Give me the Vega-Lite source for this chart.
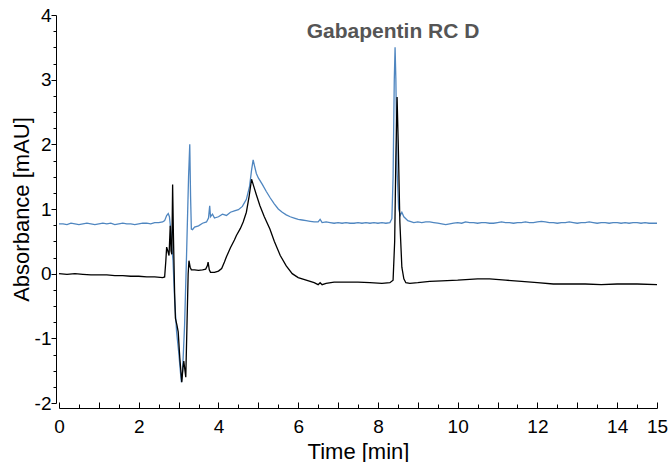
{
  "$schema": "https://vega.github.io/schema/vega-lite/v6.json",
  "width": 598,
  "height": 388,
  "autosize": "none",
  "padding": {"left": 59, "top": 15, "right": 15, "bottom": 59},
  "config": {
    "view": {"stroke": null},
    "font": "Liberation Sans",
    "axis": {"grid": false, "domainColor": "#000", "tickColor": "#000", "labelColor": "#000", "titleColor": "#000", "labelFont": "Liberation Sans", "titleFont": "Liberation Sans", "labelFontSize": 19, "titleFontSize": 22, "titleFontWeight": "normal", "domainWidth": 1, "tickWidth": 1}
  },
  "datasets": {
    "traces": [
      {"t": 0.0, "v": 0.77, "s": "blue"}, {"t": 0.1, "v": 0.77, "s": "blue"}, {"t": 0.2, "v": 0.76, "s": "blue"}, {"t": 0.3, "v": 0.78, "s": "blue"}, {"t": 0.4, "v": 0.77, "s": "blue"}, {"t": 0.5, "v": 0.76, "s": "blue"}, {"t": 0.6, "v": 0.77, "s": "blue"}, {"t": 0.7, "v": 0.78, "s": "blue"}, {"t": 0.8, "v": 0.77, "s": "blue"}, {"t": 0.9, "v": 0.76, "s": "blue"}, {"t": 1.0, "v": 0.77, "s": "blue"}, {"t": 1.1, "v": 0.78, "s": "blue"}, {"t": 1.2, "v": 0.77, "s": "blue"}, {"t": 1.3, "v": 0.78, "s": "blue"}, {"t": 1.4, "v": 0.76, "s": "blue"}, {"t": 1.5, "v": 0.77, "s": "blue"}, {"t": 1.6, "v": 0.78, "s": "blue"}, {"t": 1.7, "v": 0.77, "s": "blue"}, {"t": 1.8, "v": 0.77, "s": "blue"}, {"t": 1.9, "v": 0.76, "s": "blue"}, {"t": 2.0, "v": 0.77, "s": "blue"}, {"t": 2.1, "v": 0.78, "s": "blue"}, {"t": 2.2, "v": 0.78, "s": "blue"}, {"t": 2.3, "v": 0.77, "s": "blue"}, {"t": 2.4, "v": 0.79, "s": "blue"}, {"t": 2.5, "v": 0.79, "s": "blue"}, {"t": 2.6, "v": 0.8, "s": "blue"}, {"t": 2.65, "v": 0.82, "s": "blue"}, {"t": 2.7, "v": 0.9, "s": "blue"}, {"t": 2.74, "v": 0.93, "s": "blue"}, {"t": 2.77, "v": 0.88, "s": "blue"}, {"t": 2.8, "v": 0.7, "s": "blue"}, {"t": 2.83, "v": 0.4, "s": "blue"}, {"t": 2.86, "v": 0.2, "s": "blue"}, {"t": 2.9, "v": -0.4, "s": "blue"}, {"t": 2.95, "v": -0.9, "s": "blue"}, {"t": 3.0, "v": -1.2, "s": "blue"}, {"t": 3.05, "v": -1.55, "s": "blue"}, {"t": 3.07, "v": -1.68, "s": "blue"}, {"t": 3.1, "v": -1.5, "s": "blue"}, {"t": 3.15, "v": -0.8, "s": "blue"}, {"t": 3.2, "v": 0.3, "s": "blue"}, {"t": 3.25, "v": 1.5, "s": "blue"}, {"t": 3.28, "v": 2.0, "s": "blue"}, {"t": 3.3, "v": 1.2, "s": "blue"}, {"t": 3.32, "v": 0.69, "s": "blue"}, {"t": 3.35, "v": 0.68, "s": "blue"}, {"t": 3.4, "v": 0.72, "s": "blue"}, {"t": 3.5, "v": 0.74, "s": "blue"}, {"t": 3.6, "v": 0.78, "s": "blue"}, {"t": 3.7, "v": 0.8, "s": "blue"}, {"t": 3.75, "v": 0.86, "s": "blue"}, {"t": 3.78, "v": 1.05, "s": "blue"}, {"t": 3.8, "v": 0.88, "s": "blue"}, {"t": 3.85, "v": 0.92, "s": "blue"}, {"t": 3.9, "v": 0.86, "s": "blue"}, {"t": 4.0, "v": 0.88, "s": "blue"}, {"t": 4.1, "v": 0.92, "s": "blue"}, {"t": 4.2, "v": 0.9, "s": "blue"}, {"t": 4.3, "v": 0.95, "s": "blue"}, {"t": 4.4, "v": 0.97, "s": "blue"}, {"t": 4.5, "v": 0.99, "s": "blue"}, {"t": 4.6, "v": 1.04, "s": "blue"}, {"t": 4.7, "v": 1.15, "s": "blue"}, {"t": 4.78, "v": 1.35, "s": "blue"}, {"t": 4.83, "v": 1.6, "s": "blue"}, {"t": 4.87, "v": 1.76, "s": "blue"}, {"t": 4.9, "v": 1.68, "s": "blue"}, {"t": 4.95, "v": 1.55, "s": "blue"}, {"t": 5.0, "v": 1.48, "s": "blue"}, {"t": 5.1, "v": 1.38, "s": "blue"}, {"t": 5.2, "v": 1.27, "s": "blue"}, {"t": 5.3, "v": 1.17, "s": "blue"}, {"t": 5.4, "v": 1.08, "s": "blue"}, {"t": 5.5, "v": 1.0, "s": "blue"}, {"t": 5.6, "v": 0.95, "s": "blue"}, {"t": 5.7, "v": 0.91, "s": "blue"}, {"t": 5.8, "v": 0.88, "s": "blue"}, {"t": 5.9, "v": 0.86, "s": "blue"}, {"t": 6.0, "v": 0.84, "s": "blue"}, {"t": 6.1, "v": 0.83, "s": "blue"}, {"t": 6.2, "v": 0.82, "s": "blue"}, {"t": 6.3, "v": 0.81, "s": "blue"}, {"t": 6.4, "v": 0.8, "s": "blue"}, {"t": 6.5, "v": 0.8, "s": "blue"}, {"t": 6.55, "v": 0.84, "s": "blue"}, {"t": 6.6, "v": 0.79, "s": "blue"}, {"t": 6.7, "v": 0.8, "s": "blue"}, {"t": 6.8, "v": 0.79, "s": "blue"}, {"t": 6.9, "v": 0.78, "s": "blue"}, {"t": 7.0, "v": 0.79, "s": "blue"}, {"t": 7.1, "v": 0.78, "s": "blue"}, {"t": 7.2, "v": 0.79, "s": "blue"}, {"t": 7.3, "v": 0.78, "s": "blue"}, {"t": 7.4, "v": 0.78, "s": "blue"}, {"t": 7.5, "v": 0.79, "s": "blue"}, {"t": 7.6, "v": 0.78, "s": "blue"}, {"t": 7.7, "v": 0.79, "s": "blue"}, {"t": 7.8, "v": 0.78, "s": "blue"}, {"t": 7.9, "v": 0.79, "s": "blue"}, {"t": 8.0, "v": 0.78, "s": "blue"}, {"t": 8.1, "v": 0.79, "s": "blue"}, {"t": 8.2, "v": 0.78, "s": "blue"}, {"t": 8.3, "v": 0.79, "s": "blue"}, {"t": 8.35, "v": 0.85, "s": "blue"}, {"t": 8.38, "v": 1.5, "s": "blue"}, {"t": 8.41, "v": 3.0, "s": "blue"}, {"t": 8.43, "v": 3.5, "s": "blue"}, {"t": 8.45, "v": 3.0, "s": "blue"}, {"t": 8.48, "v": 1.6, "s": "blue"}, {"t": 8.52, "v": 1.0, "s": "blue"}, {"t": 8.56, "v": 0.9, "s": "blue"}, {"t": 8.6, "v": 0.95, "s": "blue"}, {"t": 8.65, "v": 0.88, "s": "blue"}, {"t": 8.75, "v": 0.82, "s": "blue"}, {"t": 8.9, "v": 0.79, "s": "blue"}, {"t": 9.0, "v": 0.8, "s": "blue"}, {"t": 9.1, "v": 0.79, "s": "blue"}, {"t": 9.2, "v": 0.8, "s": "blue"}, {"t": 9.3, "v": 0.8, "s": "blue"}, {"t": 9.4, "v": 0.79, "s": "blue"}, {"t": 9.5, "v": 0.78, "s": "blue"}, {"t": 9.6, "v": 0.77, "s": "blue"}, {"t": 9.7, "v": 0.76, "s": "blue"}, {"t": 9.8, "v": 0.77, "s": "blue"}, {"t": 9.9, "v": 0.78, "s": "blue"}, {"t": 10.0, "v": 0.79, "s": "blue"}, {"t": 10.1, "v": 0.78, "s": "blue"}, {"t": 10.2, "v": 0.8, "s": "blue"}, {"t": 10.3, "v": 0.79, "s": "blue"}, {"t": 10.4, "v": 0.79, "s": "blue"}, {"t": 10.5, "v": 0.78, "s": "blue"}, {"t": 10.6, "v": 0.79, "s": "blue"}, {"t": 10.7, "v": 0.79, "s": "blue"}, {"t": 10.8, "v": 0.78, "s": "blue"}, {"t": 10.9, "v": 0.78, "s": "blue"}, {"t": 11.0, "v": 0.79, "s": "blue"}, {"t": 11.1, "v": 0.8, "s": "blue"}, {"t": 11.2, "v": 0.79, "s": "blue"}, {"t": 11.3, "v": 0.79, "s": "blue"}, {"t": 11.4, "v": 0.78, "s": "blue"}, {"t": 11.5, "v": 0.79, "s": "blue"}, {"t": 11.6, "v": 0.79, "s": "blue"}, {"t": 11.7, "v": 0.8, "s": "blue"}, {"t": 11.8, "v": 0.79, "s": "blue"}, {"t": 11.9, "v": 0.79, "s": "blue"}, {"t": 12.0, "v": 0.8, "s": "blue"}, {"t": 12.1, "v": 0.81, "s": "blue"}, {"t": 12.2, "v": 0.8, "s": "blue"}, {"t": 12.3, "v": 0.79, "s": "blue"}, {"t": 12.4, "v": 0.79, "s": "blue"}, {"t": 12.5, "v": 0.78, "s": "blue"}, {"t": 12.6, "v": 0.79, "s": "blue"}, {"t": 12.7, "v": 0.79, "s": "blue"}, {"t": 12.8, "v": 0.8, "s": "blue"}, {"t": 12.9, "v": 0.79, "s": "blue"}, {"t": 13.0, "v": 0.78, "s": "blue"}, {"t": 13.1, "v": 0.79, "s": "blue"}, {"t": 13.2, "v": 0.79, "s": "blue"}, {"t": 13.3, "v": 0.8, "s": "blue"}, {"t": 13.4, "v": 0.79, "s": "blue"}, {"t": 13.5, "v": 0.78, "s": "blue"}, {"t": 13.6, "v": 0.79, "s": "blue"}, {"t": 13.7, "v": 0.79, "s": "blue"}, {"t": 13.8, "v": 0.78, "s": "blue"}, {"t": 13.9, "v": 0.79, "s": "blue"}, {"t": 14.0, "v": 0.79, "s": "blue"}, {"t": 14.1, "v": 0.78, "s": "blue"}, {"t": 14.2, "v": 0.79, "s": "blue"}, {"t": 14.3, "v": 0.78, "s": "blue"}, {"t": 14.4, "v": 0.79, "s": "blue"}, {"t": 14.5, "v": 0.79, "s": "blue"}, {"t": 14.6, "v": 0.78, "s": "blue"}, {"t": 14.7, "v": 0.79, "s": "blue"}, {"t": 14.8, "v": 0.78, "s": "blue"}, {"t": 14.9, "v": 0.78, "s": "blue"}, {"t": 15.0, "v": 0.78, "s": "blue"},
      {"t": 0.0, "v": 0.0, "s": "black"}, {"t": 0.2, "v": -0.01, "s": "black"}, {"t": 0.4, "v": 0.0, "s": "black"}, {"t": 0.6, "v": -0.01, "s": "black"}, {"t": 0.8, "v": -0.02, "s": "black"}, {"t": 1.0, "v": -0.02, "s": "black"}, {"t": 1.2, "v": -0.02, "s": "black"}, {"t": 1.4, "v": -0.03, "s": "black"}, {"t": 1.6, "v": -0.03, "s": "black"}, {"t": 1.8, "v": -0.04, "s": "black"}, {"t": 2.0, "v": -0.04, "s": "black"}, {"t": 2.2, "v": -0.05, "s": "black"}, {"t": 2.4, "v": -0.05, "s": "black"}, {"t": 2.6, "v": -0.06, "s": "black"}, {"t": 2.65, "v": -0.05, "s": "black"}, {"t": 2.68, "v": 0.2, "s": "black"}, {"t": 2.7, "v": 0.41, "s": "black"}, {"t": 2.73, "v": 0.35, "s": "black"}, {"t": 2.76, "v": 0.28, "s": "black"}, {"t": 2.79, "v": 0.74, "s": "black"}, {"t": 2.81, "v": 0.35, "s": "black"}, {"t": 2.83, "v": 0.3, "s": "black"}, {"t": 2.85, "v": 1.38, "s": "black"}, {"t": 2.87, "v": 0.6, "s": "black"}, {"t": 2.9, "v": -0.3, "s": "black"}, {"t": 2.92, "v": -0.69, "s": "black"}, {"t": 2.96, "v": -0.8, "s": "black"}, {"t": 2.99, "v": -0.9, "s": "black"}, {"t": 3.03, "v": -1.3, "s": "black"}, {"t": 3.08, "v": -1.68, "s": "black"}, {"t": 3.11, "v": -1.45, "s": "black"}, {"t": 3.13, "v": -1.35, "s": "black"}, {"t": 3.16, "v": -1.5, "s": "black"}, {"t": 3.18, "v": -1.6, "s": "black"}, {"t": 3.21, "v": -0.8, "s": "black"}, {"t": 3.24, "v": 0.0, "s": "black"}, {"t": 3.26, "v": 0.2, "s": "black"}, {"t": 3.29, "v": 0.1, "s": "black"}, {"t": 3.32, "v": 0.06, "s": "black"}, {"t": 3.4, "v": 0.06, "s": "black"}, {"t": 3.5, "v": 0.05, "s": "black"}, {"t": 3.6, "v": 0.06, "s": "black"}, {"t": 3.68, "v": 0.07, "s": "black"}, {"t": 3.72, "v": 0.12, "s": "black"}, {"t": 3.74, "v": 0.18, "s": "black"}, {"t": 3.77, "v": 0.06, "s": "black"}, {"t": 3.8, "v": 0.02, "s": "black"}, {"t": 3.9, "v": 0.02, "s": "black"}, {"t": 4.0, "v": 0.04, "s": "black"}, {"t": 4.08, "v": 0.08, "s": "black"}, {"t": 4.15, "v": 0.18, "s": "black"}, {"t": 4.2, "v": 0.26, "s": "black"}, {"t": 4.3, "v": 0.4, "s": "black"}, {"t": 4.4, "v": 0.52, "s": "black"}, {"t": 4.45, "v": 0.59, "s": "black"}, {"t": 4.55, "v": 0.7, "s": "black"}, {"t": 4.62, "v": 0.8, "s": "black"}, {"t": 4.7, "v": 0.95, "s": "black"}, {"t": 4.77, "v": 1.2, "s": "black"}, {"t": 4.83, "v": 1.46, "s": "black"}, {"t": 4.87, "v": 1.38, "s": "black"}, {"t": 4.95, "v": 1.22, "s": "black"}, {"t": 5.04, "v": 1.05, "s": "black"}, {"t": 5.15, "v": 0.88, "s": "black"}, {"t": 5.29, "v": 0.69, "s": "black"}, {"t": 5.4, "v": 0.5, "s": "black"}, {"t": 5.55, "v": 0.28, "s": "black"}, {"t": 5.7, "v": 0.12, "s": "black"}, {"t": 5.85, "v": 0.0, "s": "black"}, {"t": 6.0, "v": -0.06, "s": "black"}, {"t": 6.2, "v": -0.1, "s": "black"}, {"t": 6.4, "v": -0.14, "s": "black"}, {"t": 6.5, "v": -0.17, "s": "black"}, {"t": 6.55, "v": -0.14, "s": "black"}, {"t": 6.6, "v": -0.17, "s": "black"}, {"t": 6.7, "v": -0.15, "s": "black"}, {"t": 6.9, "v": -0.13, "s": "black"}, {"t": 7.2, "v": -0.13, "s": "black"}, {"t": 7.5, "v": -0.13, "s": "black"}, {"t": 7.8, "v": -0.14, "s": "black"}, {"t": 8.1, "v": -0.15, "s": "black"}, {"t": 8.3, "v": -0.14, "s": "black"}, {"t": 8.38, "v": -0.1, "s": "black"}, {"t": 8.42, "v": 0.5, "s": "black"}, {"t": 8.45, "v": 1.8, "s": "black"}, {"t": 8.48, "v": 2.73, "s": "black"}, {"t": 8.51, "v": 2.0, "s": "black"}, {"t": 8.55, "v": 0.8, "s": "black"}, {"t": 8.6, "v": 0.1, "s": "black"}, {"t": 8.65, "v": -0.08, "s": "black"}, {"t": 8.7, "v": -0.14, "s": "black"}, {"t": 8.8, "v": -0.15, "s": "black"}, {"t": 9.0, "v": -0.14, "s": "black"}, {"t": 9.3, "v": -0.12, "s": "black"}, {"t": 9.6, "v": -0.11, "s": "black"}, {"t": 10.0, "v": -0.1, "s": "black"}, {"t": 10.5, "v": -0.08, "s": "black"}, {"t": 10.8, "v": -0.08, "s": "black"}, {"t": 11.2, "v": -0.1, "s": "black"}, {"t": 11.6, "v": -0.12, "s": "black"}, {"t": 12.0, "v": -0.14, "s": "black"}, {"t": 12.4, "v": -0.16, "s": "black"}, {"t": 12.8, "v": -0.16, "s": "black"}, {"t": 13.2, "v": -0.16, "s": "black"}, {"t": 13.6, "v": -0.17, "s": "black"}, {"t": 14.0, "v": -0.16, "s": "black"}, {"t": 14.5, "v": -0.16, "s": "black"}, {"t": 15.0, "v": -0.17, "s": "black"}
    ],
    "labels": [{"t": 8.38, "v": 3.74, "text": "Gabapentin RC D"}]
  },
  "encoding": {
    "x": {"field": "t", "type": "quantitative", "scale": {"domain": [0, 15], "nice": false, "zero": false},
      "axis": {"title": "Time [min]", "values": [0,0.5,1,1.5,2,2.5,3,3.5,4,4.5,5,5.5,6,6.5,7,7.5,8,8.5,9,9.5,10,10.5,11,11.5,12,12.5,13,13.5,14,14.5,15],
        "labelExpr": "(datum.value % 2 === 0 || datum.value === 15) ? toString(datum.value) : ''",
        "tickSize": {"condition": {"test": "datum.value % 1 === 0", "value": -6}, "value": -4},
        "offset": 5, "labelPadding": 15, "titlePadding": 3, "labelFlush": false, "labelOverlap": false}},
    "y": {"field": "v", "type": "quantitative", "scale": {"domain": [-2, 4], "nice": false, "zero": false},
      "axis": {"title": "Absorbance [mAU]", "values": [-2,-1.75,-1.5,-1.25,-1,-0.75,-0.5,-0.25,0,0.25,0.5,0.75,1,1.25,1.5,1.75,2,2.25,2.5,2.75,3,3.25,3.5,3.75,4],
        "labelExpr": "datum.value % 1 === 0 ? toString(datum.value) : ''",
        "tickSize": {"condition": {"test": "datum.value % 1 === 0", "value": 5}, "value": 3},
        "offset": 3, "labelPadding": 0, "titlePadding": 1, "labelFlush": false, "labelOverlap": false}}
  },
  "layer": [
    {
      "data": {"name": "traces"},
      "mark": {"type": "line", "strokeWidth": 1.3, "clip": true},
      "encoding": {
        "color": {"field": "s", "type": "nominal", "scale": {"domain": ["blue", "black"], "range": ["#4f86c0", "#000000"]}, "legend": null},
        "order": {"field": "t", "type": "quantitative"}
      }
    },
    {
      "data": {"name": "labels"},
      "mark": {"type": "text", "font": "Liberation Sans", "fontWeight": "bold", "fontSize": 21, "color": "#555555", "align": "center", "baseline": "middle"},
      "encoding": {
        "text": {"field": "text"}
      }
    }
  ]
}
